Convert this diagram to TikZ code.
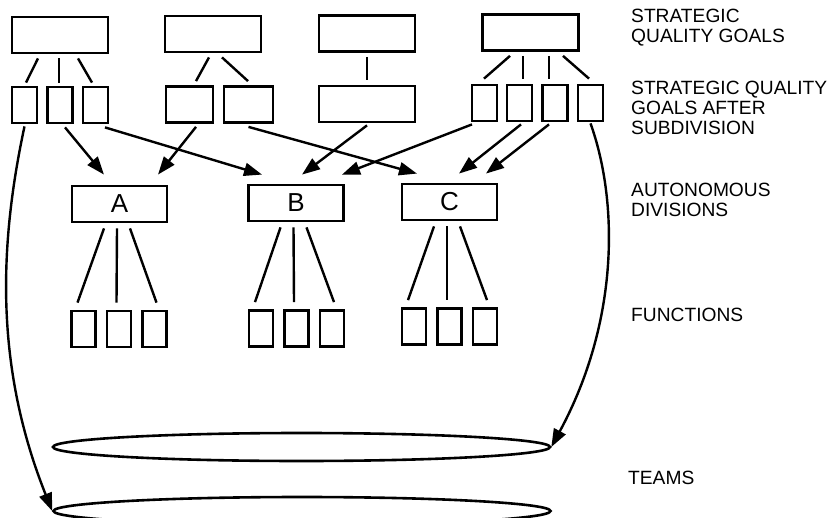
\documentclass[tikz,border=0pt]{standalone}
\usepackage{fontspec}
\setmainfont{Liberation Sans}
\usetikzlibrary{arrows.meta,calc,shapes.geometric}

\tikzset{
  goal/.style={draw,line width=1.4pt,minimum width=48pt,minimum height=18pt,inner sep=0pt},
  sub/.style={goal,minimum width=12.5pt},
  func/.style={goal,minimum width=12pt},
  division/.style={goal,minimum width=47.5pt,font=\fontsize{13pt}{14pt}\selectfont},
  team/.style={draw,ellipse,line width=1.3pt,minimum width=248.5pt,minimum height=14pt,inner sep=0pt},
  lbl/.style={anchor=north west,inner sep=0pt,align=left,font=\fontsize{9.6pt}{9.9pt}\selectfont}
}

\begin{document}
\begin{tikzpicture}[x=0.5pt,y=-0.5pt,line width=1.2pt,>={Triangle[length=9pt,width=6.5pt]}]
\useasboundingbox (0,0) rectangle (834,518);
\clip (0,0) rectangle (834,518);

% strategic quality goals
\node[goal] (g1) at (60,35) {};
\node[goal] (g2) at (213,34) {};
\node[goal] (g3) at (367,33.5) {};
\node[goal] (g4) at (530.5,32.5) {};

% goals after subdivision
\node[sub] (s1) at (24.5,105) {};
\node[sub] (s2) at (60,105) {};
\node[sub] (s3) at (95.5,105) {};
\node[goal,minimum width=23.5pt] (s4) at (189.5,104.5) {};
\node[goal,minimum width=24.5pt] (s5) at (248.5,104.5) {};
\node[goal] (s6) at (367,104) {};
\node[sub] (s7) at (484.5,103) {};
\node[sub] (s8) at (519.5,103) {};
\node[sub] (s9) at (555,103) {};
\node[sub] (s10) at (590.5,103) {};

\draw ($(g1.south)+(-22,4)$) -- ($(s1.north)+(1.5,-3)$);
\draw ($(g1.south)+(-1,4)$) -- ($(s2.north)+(-1,-3)$);
\draw ($(g1.south)+(18,4)$) -- ($(s3.north)+(-3.5,-3)$);
\draw ($(g2.south)+(-4,4)$) -- ($(s4.north)+(6.5,-4)$);
\draw ($(g2.south)+(9,4)$) -- ($(s5.north)+(-0.5,-4)$);
\draw ($(g3.south)+(0,4)$) -- ($(s6.north)+(0,-5)$);
\draw ($(g4.south)+(-20.5,4)$) -- ($(s7.north)+(-0.5,-5)$);
\draw ($(g4.south)+(-7.5,4)$) -- ($(s8.north)+(3.5,-5)$);
\draw ($(g4.south)+(18.5,4)$) -- ($(s9.north)+(-6,-5)$);
\draw ($(g4.south)+(32.5,4)$) -- ($(s10.north)+(-1.5,-5)$);

% autonomous divisions
\node[division] (A) at (119.5,204) {A};
\node[division] (B) at (296,203) {B};
\node[division] (C) at (449.5,202) {C};

\draw[->] ($(s2.south)+(5,3)$) -- ($(A.north)+(-15.5,-10)$);
\draw[->] ($(s4.south)+(6.5,3)$) -- ($(A.north)+(38.5,-10)$);
\draw[->] ($(s3.south)+(9.5,3)$) -- ($(B.north)+(-34,-9)$);
\draw[->] ($(s5.south)+(0,3)$) -- ($(C.north)+(-32.5,-9)$);
\draw[->] ($(s6.south)+(0,2)$) -- ($(B.north)+(6,-9)$);
\draw[->] ($(s7.south)+(-12.5,2)$) -- ($(B.north)+(46,-9)$);
\draw[->] ($(s8.south)+(1.5,2)$) -- ($(C.north)+(9.5,-9)$);
\draw[->] ($(s9.south)+(-6,2)$) -- ($(C.north)+(36.5,-9)$);

% functions
\foreach \d/\x/\y in {A/83.5/329,B/261/328.5,C/414/326.5}{
  \foreach \i in {1,2,3}
    \node[func] (\d\i) at ({\x+35.5*(\i-1)},\y) {};
  \draw ($(\d.south)+(-15.5,5)$) -- ($(\d1.north)+(-6,-7)$);
  \draw ($(\d.south)+(-2.5,5)$) -- ($(\d2.north)+(-2.5,-7)$);
  \draw ($(\d.south)+(10.5,5)$) -- ($(\d3.north)+(2,-7)$);
}

% teams
\node[team] (t1) at (301.5,447) {};
\node[team] (t2) at (302,511) {};

\draw[->] ($(s1.south)+(0,2)$) .. controls (-2,250) and (-4,370) .. (t2.west);
\draw[->] ($(s10.south)+(0,1)$) .. controls (618,200) and (620,320) .. (t1.east);

% labels
\node[lbl] (l1) at (630,8) {STRATEGIC\\QUALITY GOALS};
\node[lbl] (l2) at (630,80) {STRATEGIC QUALITY\\GOALS AFTER\\SUBDIVISION};
\node[lbl] (l3) at (630,182) {AUTONOMOUS\\DIVISIONS};
\node[lbl] (l4) at (630,307) {FUNCTIONS};
\node[lbl] (l5) at (627,470) {TEAMS};
\end{tikzpicture}
\end{document}
